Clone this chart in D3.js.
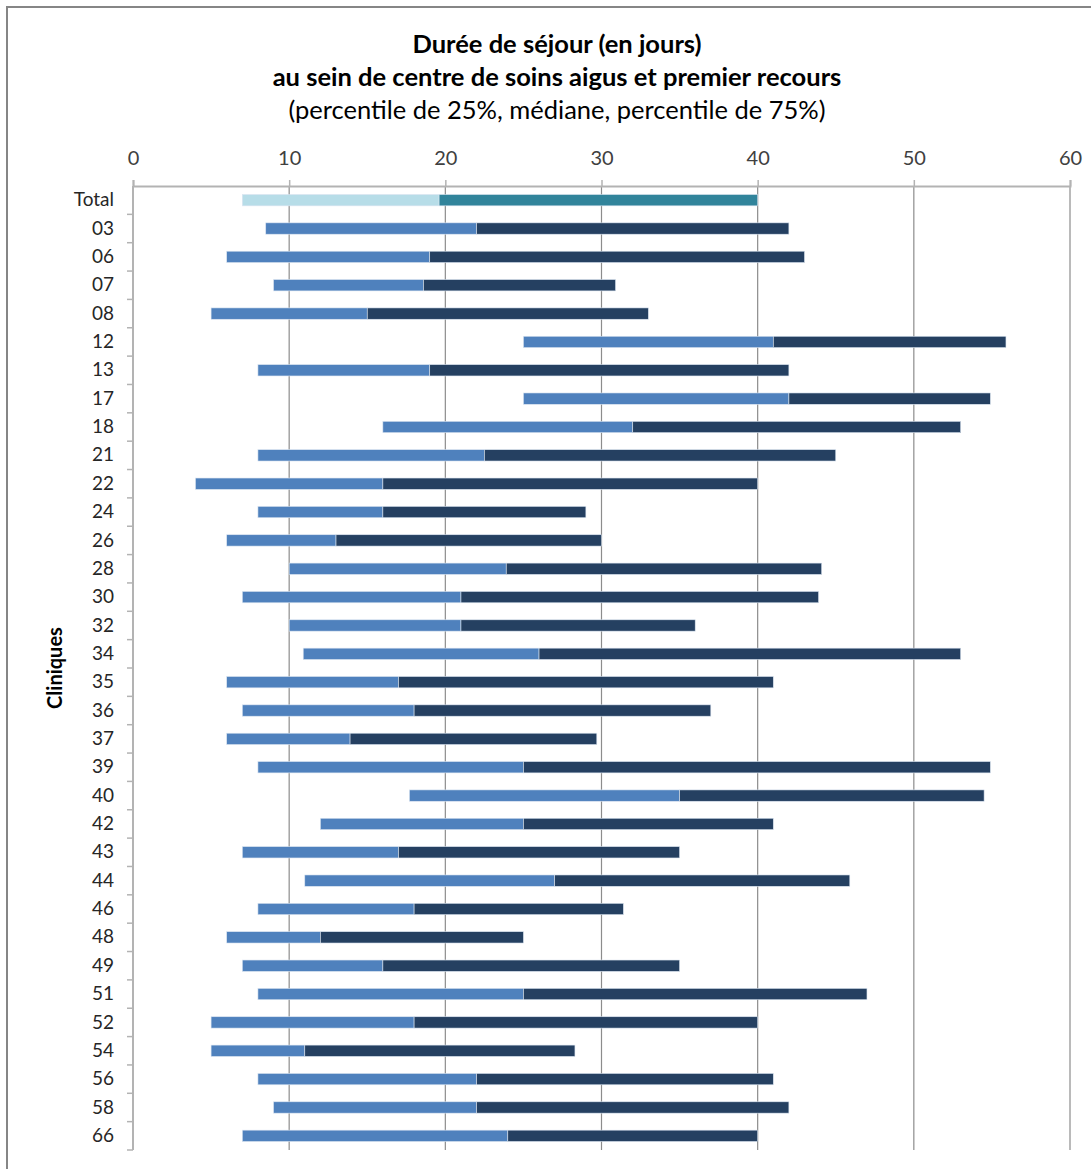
<!DOCTYPE html>
<html>
<head>
<meta charset="utf-8">
<script src="https://cdn.jsdelivr.net/npm/d3@7"></script>
<style>
  body { margin: 0; background: #fff; }
  svg { display: block; font-family: Lato, "Open Sans", sans-serif; }
</style>
</head>
<body>
<div id="chart"></div>
<script>
// cliniques (de haut en bas)
const cliniques = ["Total", "03", "06", "07", "08", "12", "13", "17", "18", "21", "22", "24", "26", "28", "30",
  "32", "34", "35", "36", "37", "39", "40", "42", "43", "44", "46", "48", "49", "51", "52", "54", "56", "58", "66"]
// percentile de 25%
const p25 = [7, 8.5, 6, 9, 5, 25, 8, 25, 16, 8, 4, 8, 6, 10, 7,
  10, 10.9, 6, 7, 6, 8, 17.7, 12, 7, 11, 8, 6, 7, 8, 5, 5, 8, 9, 7]
// médiane
const mediane = [19.6, 22, 19, 18.6, 15, 41, 19, 42, 32, 22.5, 16, 16, 13, 23.9, 21,
  21, 26, 17, 18, 13.9, 25, 35, 25, 17, 27, 18, 12, 16, 25, 18, 11, 22, 22, 24]
// percentile de 75%
const p75 = [40, 42, 43, 30.9, 33, 55.9, 42, 54.9, 53, 45, 40, 29, 30, 44.1, 43.9,
  36, 53, 41, 37, 29.7, 54.9, 54.5, 41, 35, 45.9, 31.4, 25, 35, 47, 40, 28.3, 41, 42, 40]
const xTicks = [0, 10, 20, 30, 40, 50, 60]

const data = cliniques.map((c, i) => ({ c, p25: p25[i], med: mediane[i], p75: p75[i] }))

const width = 1091
const height = 1169
const margin = { top: 186, left: 133, right: 21, bottom: 19 }
const iwidth = width - margin.left - margin.right
const iheight = height - margin.top - margin.bottom

const svg = d3.select("#chart").append("svg")
  .attr("width", width)
  .attr("height", height)

// cadre
svg.append("rect")
  .attr("x", 7).attr("y", 7)
  .attr("width", 1200).attr("height", 1300)
  .attr("fill", "none")
  .attr("stroke", "#868686")
  .attr("stroke-width", 2)

// titre
const title = svg.append("text")
  .attr("x", 557)
  .attr("text-anchor", "middle")
  .attr("fill", "#000")
title.append("tspan").attr("x", 557).attr("y", 53)
  .attr("font-weight", "bold").attr("font-size", 25.5)
  .text("Durée de séjour (en jours)")
title.append("tspan").attr("x", 557).attr("y", 86)
  .attr("font-weight", "bold").attr("font-size", 25.5)
  .text("au sein de centre de soins aigus et premier recours")
title.append("tspan").attr("x", 557).attr("y", 119)
  .attr("font-size", 25.5)
  .text("(percentile de 25%, médiane, percentile de 75%)")

const g = svg.append("g")
  .attr("transform", `translate(${margin.left}, ${margin.top})`)

const x = d3.scaleLinear()
  .domain([0, 60])
  .range([0, iwidth])

const y = d3.scaleBand()
  .domain(cliniques)
  .range([0, iheight])
  .paddingInner(0.6)
  .paddingOuter(0.3)

// grille verticale
g.append("g")
  .selectAll("line")
  .data(xTicks.slice(1))
  .join("line")
  .attr("x1", d => x(d))
  .attr("x2", d => x(d))
  .attr("y1", 0)
  .attr("y2", iheight)
  .attr("stroke", "#8c8c8c")
  .attr("stroke-width", 1.2)

// axe du haut
const xAxis = g.append("g")
  .call(d3.axisTop(x).tickValues(xTicks).tickSize(6).tickPadding(15))
xAxis.select(".domain").attr("stroke", "#b3b3b3").attr("stroke-width", 2)
xAxis.selectAll(".tick line").attr("stroke", "#b3b3b3").attr("stroke-width", 1.5)
xAxis.selectAll("text")
  .attr("font-size", 20)
  .attr("font-family", "Lato, sans-serif")
  .attr("fill", "#404040")

// barres : p25 -> médiane
const bars = g.append("g")
bars.selectAll("rect.bas")
  .data(data)
  .join("rect")
  .attr("class", "bas")
  .attr("x", d => x(d.p25))
  .attr("y", d => y(d.c))
  .attr("width", d => x(d.med) - x(d.p25))
  .attr("height", y.bandwidth())
  .attr("fill", d => d.c === "Total" ? "#b7dde8" : "#4f81bd")
  .attr("stroke", "#dbe5f1")
  .attr("stroke-width", 0.6)

// barres : médiane -> p75
bars.selectAll("rect.haut")
  .data(data)
  .join("rect")
  .attr("class", "haut")
  .attr("x", d => x(d.med))
  .attr("y", d => y(d.c))
  .attr("width", d => x(d.p75) - x(d.med))
  .attr("height", y.bandwidth())
  .attr("fill", d => d.c === "Total" ? "#31849b" : "#254061")
  .attr("stroke", "#dbe5f1")
  .attr("stroke-width", 0.6)

// axe vertical (catégories)
const yAxis = g.append("g")
  .call(d3.axisLeft(y).tickSize(0).tickPadding(19))
yAxis.select(".domain").remove()
yAxis.selectAll("text")
  .attr("font-size", 19)
  .attr("font-family", "Lato, sans-serif")
  .attr("fill", "#262626")

g.append("line")
  .attr("x1", 0).attr("x2", 0)
  .attr("y1", 0).attr("y2", iheight)
  .attr("stroke", "#b3b3b3")
  .attr("stroke-width", 2)

const half = (y.step() - y.bandwidth()) / 2
g.append("g")
  .selectAll("line")
  .data(cliniques)
  .join("line")
  .attr("x1", -6).attr("x2", 0)
  .attr("y1", d => y(d) + y.bandwidth() + half)
  .attr("y2", d => y(d) + y.bandwidth() + half)
  .attr("stroke", "#b3b3b3")
  .attr("stroke-width", 1.5)

// titre de l'axe
svg.append("text")
  .attr("transform", "translate(62, 668) rotate(-90)")
  .attr("text-anchor", "middle")
  .attr("font-weight", "bold")
  .attr("font-size", 20)
  .attr("fill", "#000")
  .text("Cliniques")
</script>
</body>
</html>
